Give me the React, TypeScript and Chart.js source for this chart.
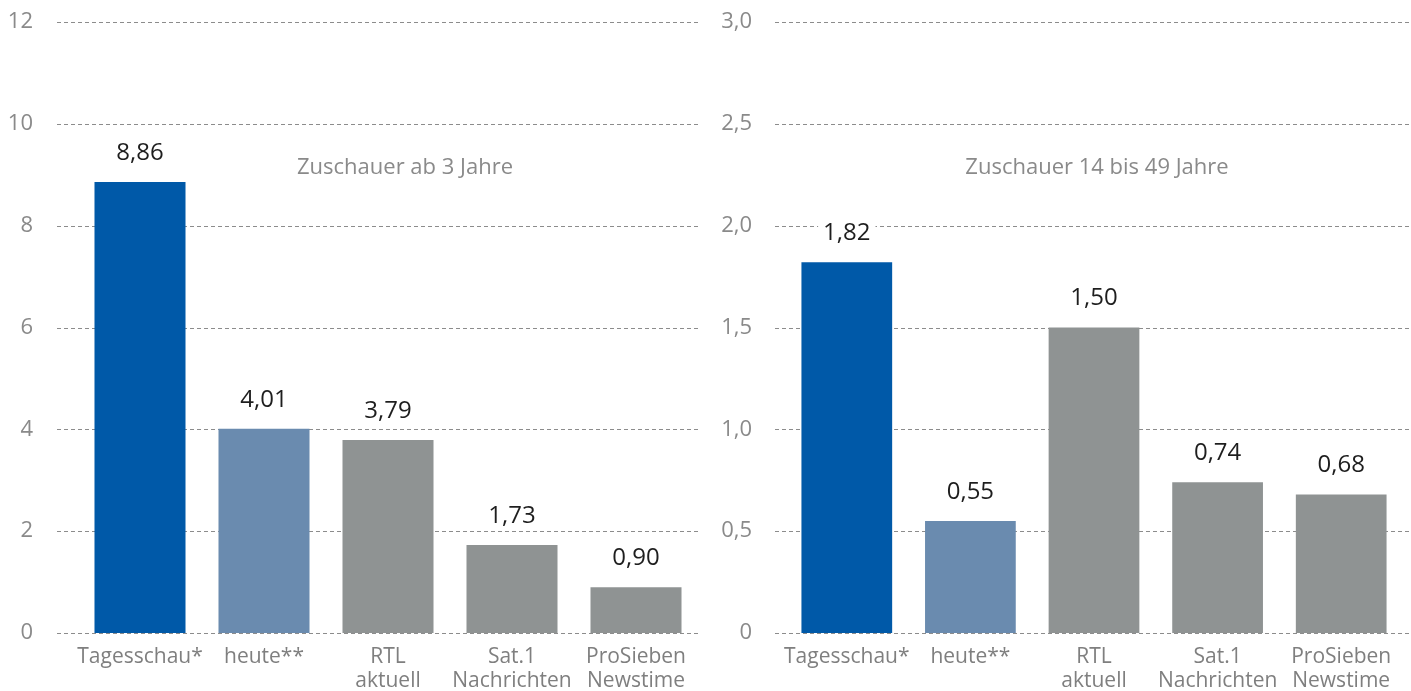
import React, { useEffect, useRef } from "react";
import { Chart, registerables } from "chart.js";

Chart.register(...registerables);

const categories: (string | string[])[] = [
  "Tagesschau*",
  "heute**",
  ["RTL", "aktuell"],
  ["Sat.1", "Nachrichten"],
  ["ProSieben", "Newstime"],
];
const valuesAll = [8.86, 4.01, 3.79, 1.73, 0.9];
const values14to49 = [1.82, 0.55, 1.5, 0.74, 0.68];
const titleAll = "Zuschauer ab 3 Jahre";
const title14to49 = "Zuschauer 14 bis 49 Jahre";
const barColors = ["#0059a8", "#6a8baf", "#8f9393", "#8f9393", "#8f9393"];

const FONT = "'Open Sans', 'Noto Sans', sans-serif";

const gridPlugin = {
  id: "customGrid",
  beforeDatasetsDraw(chart: any, _args: any, opts: any) {
    const { ctx, chartArea } = chart;
    const y = chart.scales.y;
    ctx.save();
    ctx.strokeStyle = "#8c8c8c";
    ctx.lineWidth = 1;
    ctx.setLineDash([4, 3]);
    y.ticks.forEach((t: any) => {
      const py = Math.round(y.getPixelForValue(t.value)) + 0.5;
      ctx.beginPath();
      ctx.moveTo(chartArea.left - opts.extLeft, py);
      ctx.lineTo(chartArea.right + opts.extRight, py);
      ctx.stroke();
    });
    ctx.restore();
  },
};

const labelPlugin = {
  id: "valueLabels",
  afterDatasetsDraw(chart: any, _args: any, opts: any) {
    const { ctx, chartArea } = chart;
    const meta = chart.getDatasetMeta(0);
    const data = chart.data.datasets[0].data as number[];
    ctx.save();
    ctx.font = `24px ${FONT}`;
    ctx.textAlign = "center";
    ctx.textBaseline = "middle";
    meta.data.forEach((bar: any, i: number) => {
      const txt = data[i].toFixed(2).replace(".", ",");
      const w = ctx.measureText(txt).width;
      const cy = bar.y - 29;
      ctx.fillStyle = "#ffffff";
      ctx.fillRect(bar.x - w / 2 - 5, cy - 15, w + 10, 30);
      ctx.fillStyle = "#1e1e1e";
      ctx.fillText(txt, bar.x, cy);
    });
    ctx.font = `22px ${FONT}`;
    ctx.fillStyle = "#8a8a8a";
    ctx.fillText(opts.title, (chartArea.left + chartArea.right) / 2 + opts.titleShift, chartArea.top + 146);
    ctx.restore();
  },
};

function Panel(props: {
  values: number[];
  max: number;
  step: number;
  decimals: number;
  title: string;
  axisWidth: number;
  tickGap: number;
  extLeft: number;
  extRight: number;
  padRight: number;
  titleShift: number;
}) {
  const ref = useRef<HTMLCanvasElement>(null);
  useEffect(() => {
    const chart = new Chart(ref.current!, {
      type: "bar",
      data: {
        labels: categories,
        datasets: [
          {
            data: props.values,
            backgroundColor: barColors,
            categoryPercentage: 1,
            barPercentage: 0.734,
          },
        ],
      },
      options: {
        animation: false,
        responsive: false,
        layout: { padding: { top: 22, right: props.padRight, left: 0, bottom: 0 } },
        plugins: {
          legend: { display: false },
          tooltip: { enabled: false },
          customGrid: { extLeft: props.extLeft, extRight: props.extRight },
          valueLabels: { title: props.title, titleShift: props.titleShift },
        } as any,
        scales: {
          x: {
            grid: { display: false, drawTicks: false },
            border: { display: false },
            afterFit: (s: any) => {
              s.height = 58;
            },
            ticks: {
              color: "#7f7f7f",
              font: { family: FONT, size: 21, lineHeight: 1.15 },
              padding: 12,
              maxRotation: 0,
              autoSkip: false,
            },
          },
          y: {
            min: 0,
            max: props.max,
            grid: { display: false, drawTicks: true, tickLength: props.tickGap },
            border: { display: false },
            afterFit: (s: any) => {
              s.width = props.axisWidth;
            },
            ticks: {
              stepSize: props.step,
              color: "#8a8a8a",
              padding: 0,
              font: { family: FONT, size: 22 },
              callback: (v: any) =>
                Number(v) === 0 ? "0" : Number(v).toFixed(props.decimals).replace(".", ","),
            },
          },
        },
      },
      plugins: [gridPlugin, labelPlugin],
    });
    return () => chart.destroy();
  }, []);
  return <canvas ref={ref} width={705} height={691} style={{ display: "block" }} />;
}

export default function App() {
  return (
    <div style={{ position: "absolute", left: 0, top: 0, width: 1411, height: 691, background: "#fff", display: "flex" }}>
      <div style={{ width: 705, height: 691 }}>
        <Panel
          values={valuesAll}
          max={12}
          step={2}
          decimals={0}
          title={titleAll}
          axisWidth={78}
          tickGap={45}
          extLeft={21}
          extRight={0}
          padRight={7}
          titleShift={17}
        />
      </div>
      <div style={{ width: 706, height: 691 }}>
        <Panel
          values={values14to49}
          max={3}
          step={0.5}
          decimals={1}
          title={title14to49}
          axisWidth={80}
          tickGap={33}
          extLeft={10}
          extRight={7}
          padRight={7}
          titleShift={3}
        />
      </div>
    </div>
  );
}
